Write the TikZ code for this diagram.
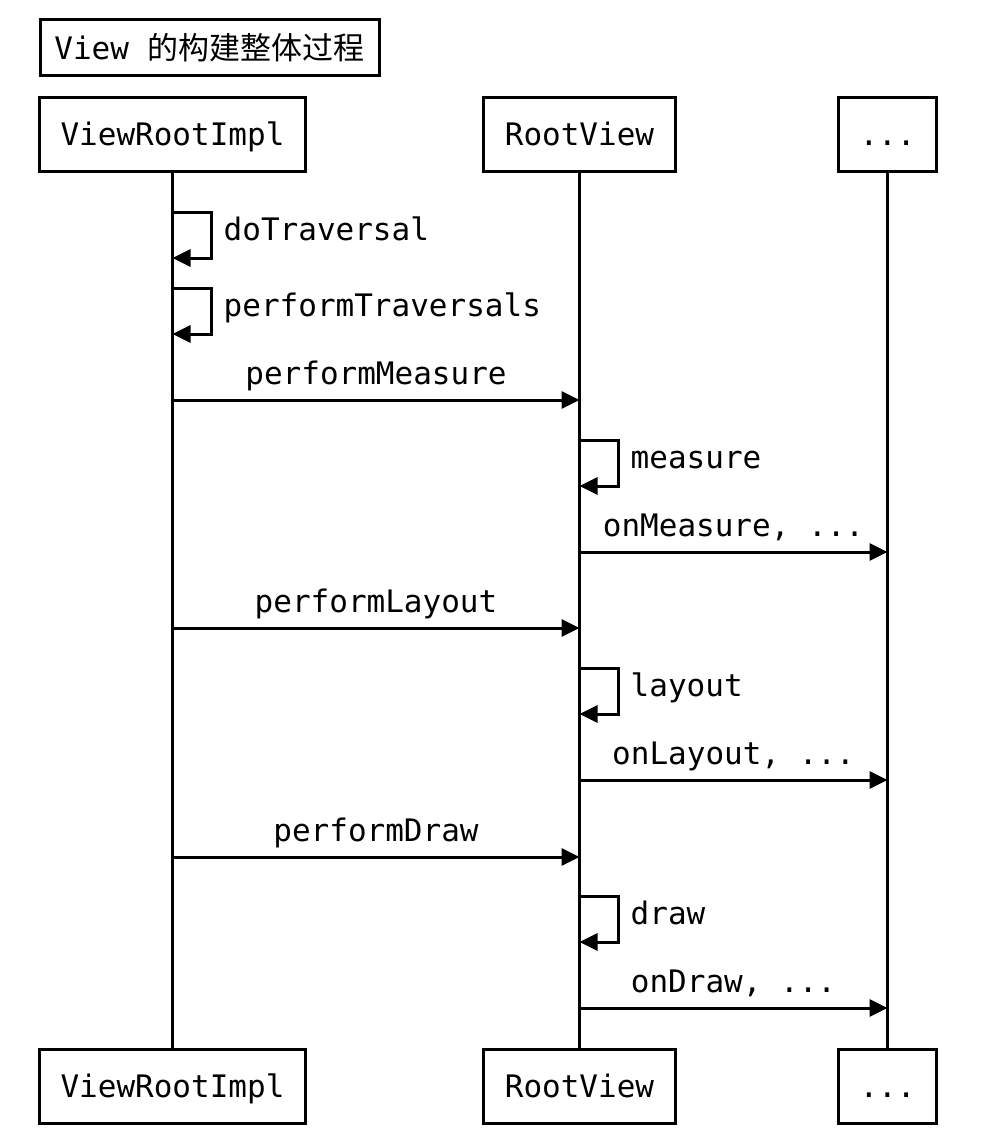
\documentclass[tikz,border=0pt]{standalone}
\usepackage{fontspec}
\setmonofont{DejaVu Sans Mono}
\newfontfamily\cjk{Noto Sans CJK SC}
\usetikzlibrary{arrows.meta,positioning}

\tikzset{
  actor/.style={draw, line width=3pt, minimum height=74pt, inner xsep=21pt,
    text height=23pt, text depth=0pt},
  caption/.style={draw, line width=3pt, minimum height=56pt, minimum width=339pt, anchor=west},
  life/.style={line width=3pt},
  msg/.style={line width=3pt, -{Triangle[length=18pt,width=17pt]}},
}

\begin{document}
\begin{tikzpicture}[x=1pt, y=-1pt, font=\ttfamily\fontsize{31}{37}\selectfont]
    \useasboundingbox (0,0) rectangle (998,1146);
    \node[caption] (title) at (38.5,47.5) {View {\cjk 的构建整体过程}};
    \node[actor] (vri) at (172.5,134) {ViewRootImpl};
    \node[actor] (rv) at (579.5,134) {RootView};
    \node[actor] (etc) at (887.5,134) {...};
    \node[actor] (vri2) at (172.5,1086) {ViewRootImpl};
    \node[actor] (rv2) at (579.5,1086) {RootView};
    \node[actor] (etc2) at (887.5,1086) {...};
    \draw[life] (vri) -- (vri2);
    \draw[life] (rv) -- (rv2);
    \draw[life] (etc) -- (etc2);
    \foreach \who/\y/\txt in {vri/212/doTraversal, vri/288/performTraversals,
        rv/440/measure, rv/668/layout, rv/896/draw} {
      \draw[msg] (\who |- 0,\y) -- ++(39,0) -- ++(0,46) -- ++(-39,0);
      \path (\who |- 0,\y) ++(51,28) node[anchor=base west, inner sep=0pt] {\txt};
    }
    \foreach \from/\to/\y/\txt in {vri/rv/400/performMeasure, rv/etc/552/{onMeasure, ...},
        vri/rv/628/performLayout, rv/etc/780/{onLayout, ...},
        vri/rv/857/performDraw, rv/etc/1008/{onDraw, ...}}
      \draw[msg] (\from |- 0,\y) -- node[anchor=base, yshift=16pt, inner sep=0pt] {\txt} (\to |- 0,\y);
  \end{tikzpicture}
\end{document}
